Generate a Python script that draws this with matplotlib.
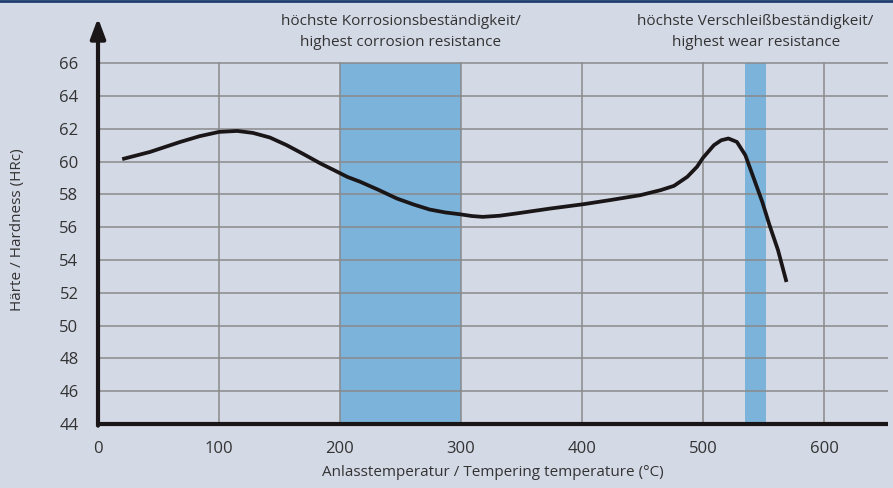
import matplotlib
matplotlib.use("Agg")
import matplotlib.pyplot as plt
from matplotlib import font_manager as fm

names = {f.name for f in fm.fontManager.ttflist}
FONT = "Liberation Sans Narrow" if "Liberation Sans Narrow" in names else "Open Sans"
plt.rcParams['font.family'] = [FONT, 'DejaVu Sans']

# Data
temperature = [20, 43, 68, 84, 100, 115, 128, 142, 156, 170, 184, 195, 206, 217, 232, 247,
               261, 274, 287, 299, 309, 318, 332, 346, 374, 401, 423, 448, 465, 476, 487,
               495, 500, 509, 515, 521, 528, 535, 542, 549, 555, 562, 569]
hardness = [60.15, 60.59, 61.2, 61.55, 61.81, 61.87, 61.75, 61.47, 61.0, 60.45, 59.88, 59.48,
            59.07, 58.76, 58.27, 57.75, 57.38, 57.08, 56.9, 56.79, 56.68, 56.63, 56.7, 56.84,
            57.14, 57.4, 57.65, 57.95, 58.26, 58.52, 59.07, 59.68, 60.23, 61.0, 61.3, 61.41,
            61.2, 60.39, 58.97, 57.54, 56.12, 54.6, 52.66]
x_ticks = [0, 100, 200, 300, 400, 500, 600]
y_ticks = [44, 46, 48, 50, 52, 54, 56, 58, 60, 62, 64, 66]
bands = [(200, 300), (535, 552)]
band_labels = ["höchste Korrosionsbeständigkeit/\nhighest corrosion resistance",
               "höchste Verschleißbeständigkeit/\nhighest wear resistance"]

BG = "#d4d9e6"
BAND = "#7bb3db"
GRID = "#8a8a8a"
TXT = "#333333"
AX = "#1a1618"
FS = 11

fig = plt.figure(figsize=(8.93, 4.88), dpi=100, facecolor=BG)
ax = fig.add_axes([98/893, 1-424/488, 790/893, (424-18)/488])
ax.set_facecolor(BG)
xmax = 790/1.21
ymax = 44 + (424-18)/16.4
ax.set_xlim(0, xmax)
ax.set_ylim(44, ymax)

for (a, b) in bands:
    ax.fill_between([a, b], 44, 66, color=BAND, lw=0, zorder=1)
for yt in y_ticks[1:]:
    ax.plot([0, xmax], [yt, yt], color=GRID, lw=1.1, zorder=2)
for xt in x_ticks[1:]:
    ax.plot([xt, xt], [44, 66], color=GRID, lw=1.1, zorder=2)

ax.plot(temperature, hardness, color=AX, lw=2.7, solid_capstyle='butt',
        solid_joinstyle='round', zorder=3)

for s in ax.spines.values():
    s.set_visible(False)
ax.plot([0, xmax], [44, 44], color=AX, lw=3, zorder=4, solid_capstyle='butt', clip_on=False)
ax.annotate("", xy=(0, ymax), xytext=(0, 43.9),
            arrowprops=dict(arrowstyle="-|>,head_length=1.2,head_width=0.45", color=AX, lw=3,
                            shrinkA=0, shrinkB=0), zorder=5, annotation_clip=False)

ax.set_xticks(x_ticks)
ax.set_yticks(y_ticks)
ax.tick_params(length=0, labelsize=12, colors=TXT, pad=12)
ax.tick_params(axis='y', pad=14)

for (a, b), lab in zip(bands, band_labels):
    xc = (a + b) / 2
    fig.text((98 + xc*1.21)/893, 1-32/488, lab, ha='center', va='center',
             fontsize=FS, color=TXT, linespacing=1.55)

fig.text(18/893, 1-230/488, "Härte / Hardness (HRc)", rotation=90, ha='center', va='center',
         fontsize=FS, color=TXT)
fig.text(493/893, 1-473/488, "Anlasstemperatur / Tempering temperature (°C)", ha='center',
         va='center', fontsize=FS, color=TXT)

fig.add_artist(plt.Line2D([0, 1], [1-1/488, 1-1/488], color="#1f3d6e", lw=2))

fig.savefig("out.png", dpi=100, facecolor=BG)
